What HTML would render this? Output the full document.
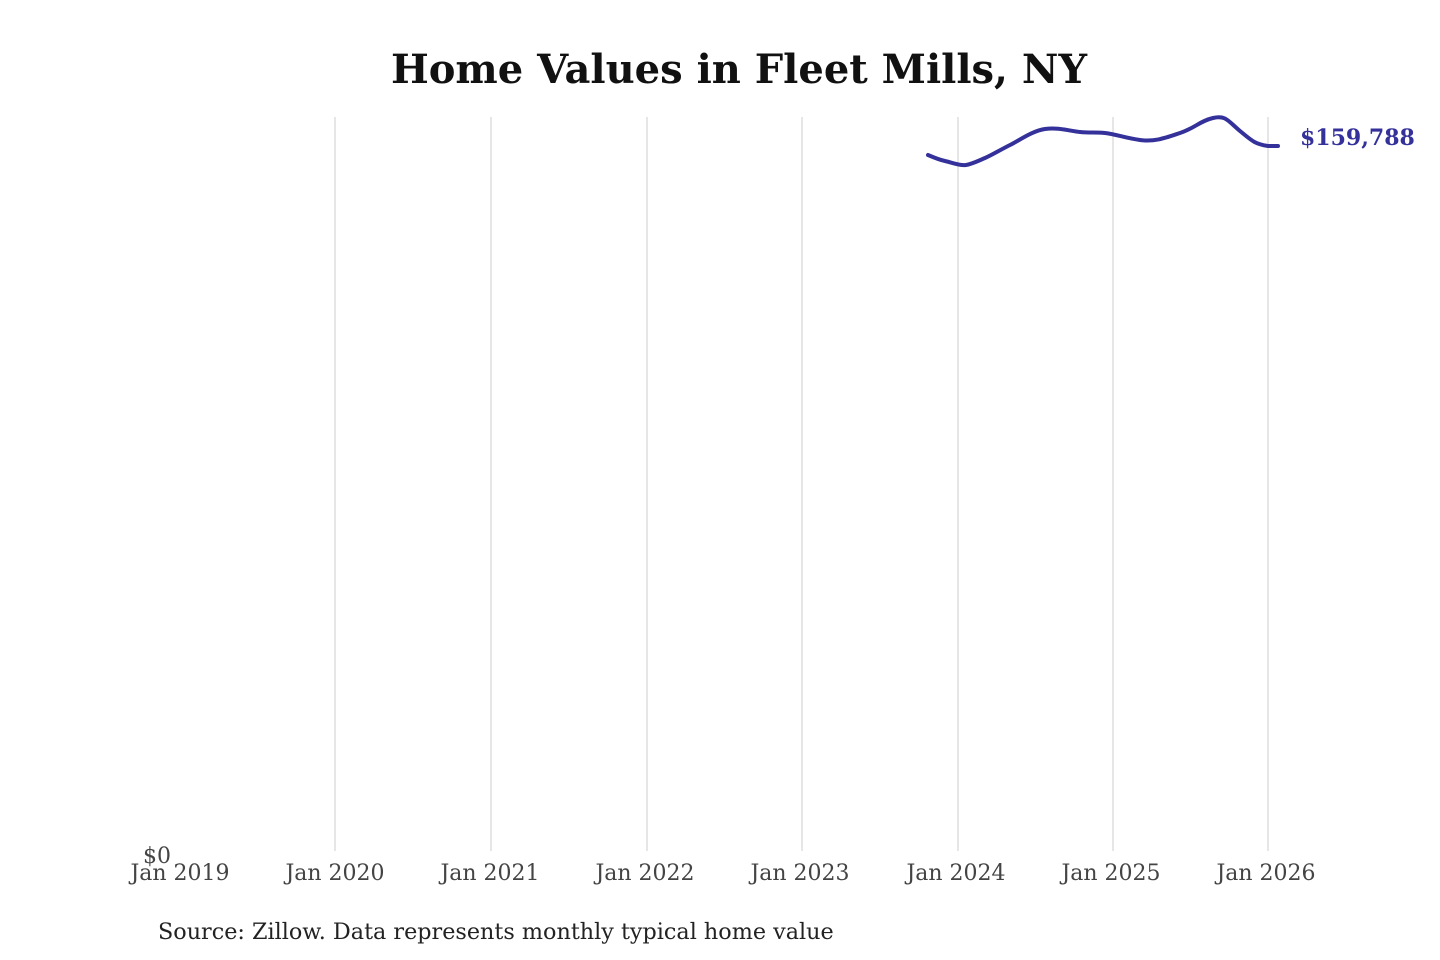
<!DOCTYPE html>
<html><head><style>body{margin:0;background:#fff}svg{display:block}</style></head><body>
<svg width="1440" height="960" xmlns="http://www.w3.org/2000/svg" font-family="DejaVu Serif, Liberation Serif, serif">
<rect width="1440" height="960" fill="#fff"/>
<text x="739" y="83" text-anchor="middle" font-size="40" font-weight="bold" fill="#111">Home Values in Fleet Mills, NY</text>
<g stroke="#cccccc" stroke-width="1">
<line x1="335" y1="117" x2="335" y2="851"/><line x1="491" y1="117" x2="491" y2="851"/><line x1="647" y1="117" x2="647" y2="851"/><line x1="802" y1="117" x2="802" y2="851"/><line x1="958" y1="117" x2="958" y2="851"/><line x1="1113" y1="117" x2="1113" y2="851"/><line x1="1268" y1="117" x2="1268" y2="851"/>
</g>
<g font-size="22" fill="#444" text-anchor="middle">
<text x="180" y="880">Jan 2019</text><text x="335" y="880">Jan 2020</text><text x="490" y="880">Jan 2021</text><text x="645" y="880">Jan 2022</text><text x="800" y="880">Jan 2023</text><text x="956" y="880">Jan 2024</text><text x="1111" y="880">Jan 2025</text><text x="1266" y="880">Jan 2026</text>
<text x="157" y="863">$0</text>
</g>
<path d="M928,155 C935,158 940,160 945,161 S960,166 966,165 S978,161 985,158 S1000,150 1010,145 S1032,131 1045,129 S1070,131 1080,132 S1095,132 1105,133 S1125,138 1140,140 S1165,138 1180,133 S1200,121 1213,118 S1228,121 1240,131 S1255,144 1268,146 L1278,146" fill="none" stroke="#34319a" stroke-width="4" stroke-linecap="round"/>
<text x="1300" y="145" font-size="22" font-weight="bold" fill="#34319a">$159,788</text>
<text x="158" y="939" font-size="22.3" fill="#222">Source: Zillow. Data represents monthly typical home value</text>
</svg>
</body></html>
